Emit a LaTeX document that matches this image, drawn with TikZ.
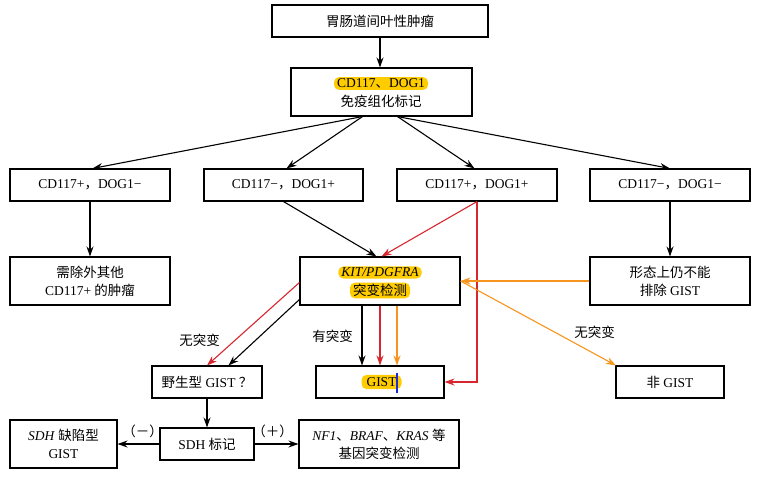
\documentclass[tikz,border=0pt]{standalone}
\usepackage{fontspec}
\setmainfont{Liberation Serif}
\newfontfamily\cjkfont{Noto Sans CJK SC}
\newcommand\zhs[1]{{\cjkfont #1}}
\usetikzlibrary{arrows.meta}
\definecolor{myred}{HTML}{D7262E}
\definecolor{myorange}{HTML}{F7941D}
\definecolor{hlyellow}{HTML}{FFCC00}
\definecolor{cursorblue}{HTML}{1A2BD8}
\begin{document}
\begin{tikzpicture}[x=1pt,y=-1pt,
  font=\fontsize{13.5}{18}\selectfont,
  box/.style={draw, line width=1.1pt, inner sep=0pt, align=center},
  txt/.style={inner sep=0pt},
  hl/.style={fill=hlyellow, rounded corners=5pt, inner xsep=3pt, inner ysep=1.5pt},
  arr/.style={-{Stealth[length=10pt,width=7pt]}, line width=1.1pt},
  lbl/.style={inner sep=0pt}]
\useasboundingbox (0,0) rectangle (760,477);
\begin{scope}[shift={(-0.5,-0.5)}]
% row 1-2
\node[box, minimum width=216pt, minimum height=32pt] (top) at (380.5,21.5) {\zhs{胃肠道间叶性肿瘤}};
\node[box, minimum width=181pt, minimum height=48pt] (b2) at (382,92.5) {};
\node[txt,hl] (b2a) at (381.5,84) {CD117\zhs{、}DOG1};
\node[txt] (b2b) at (381.5,101.5) {\zhs{免疫组化标记}};
% row 3
\node[box, minimum width=160pt, minimum height=32pt] (A) at (90.5,185.5) {CD117+\zhs{，}DOG1−};
\node[box, minimum width=159pt, minimum height=32pt] (B) at (284,185.5) {CD117−\zhs{，}DOG1+};
\node[box, minimum width=160pt, minimum height=32pt] (C) at (477.5,185.5) {CD117+\zhs{，}DOG1+};
\node[box, minimum width=160pt, minimum height=32pt] (D) at (670.5,185.5) {CD117−\zhs{，}DOG1−};
% row 4
\node[box, minimum width=160pt, minimum height=48pt] (E) at (90.5,281.5) {\zhs{需除外其他}\\CD117+ \zhs{的肿瘤}};
\node[box, minimum width=160pt, minimum height=48pt] (K) at (380.5,281.5) {};
\node[txt,hl] (Ka) at (380.5,273) {\textit{KIT/PDGFRA}};
\node[txt,hl] (Kb) at (380.5,291) {\zhs{突变检测}};
\node[box, minimum width=160pt, minimum height=48pt] (F) at (670.5,281.5) {\zhs{形态上仍不能}\\\zhs{排除} GIST};
% row 5
\node[box, minimum width=110pt, minimum height=32pt] (W) at (207.5,382.5) {\zhs{野生型} GIST \zhs{？}};
\node[box, minimum width=128pt, minimum height=32pt] (G) at (380.5,382.5) {};
\node[txt,hl,inner xsep=5pt,inner ysep=2.5pt] (Ga) at (382,382.5) {GIST\hspace{2pt}};
\node[box, minimum width=108pt, minimum height=32pt] (N) at (670.5,382.5) {\zhs{非} GIST};
% row 6
\node[box, minimum width=107pt, minimum height=48pt] (S1) at (64,444.5) {\textit{SDH} \zhs{缺陷型}\\GIST};
\node[box, minimum width=94pt, minimum height=32pt] (S) at (207.5,444.5) {SDH \zhs{标记}};
\node[box, minimum width=160pt, minimum height=48pt] (R) at (379.5,444.5) {\textit{NF1}\zhs{、}\textit{BRAF}\zhs{、}\textit{KRAS} \zhs{等}\\\zhs{基因突变检测}};
% cursor
\draw[cursorblue, line width=1.1pt] (397.5,373) -- (397.5,393);
% labels
\node[lbl] (l1) at (200,341) {\zhs{无突变}};
\node[lbl] (l2) at (333,337) {\zhs{有突变}};
\node[lbl] (l3) at (595,333) {\zhs{无突变}};
\node[lbl] (l4) at (143,432) {\zhs{（－）}};
\node[lbl] (l5) at (273,432) {\zhs{（＋）}};
% arrows
\draw[arr] (top.south) -- (top.south |- b2.north);
\draw[arr] ([xshift=-19pt]b2.south) -- ([xshift=2.5pt]A.north);
\draw[arr] ([xshift=-19pt]b2.south) -- ([xshift=3pt]B.north);
\draw[arr] ([xshift=16pt]b2.south) -- ([xshift=-2.5pt]C.north);
\draw[arr] ([xshift=16pt]b2.south) -- (D.north);
\draw[arr] (A.south) -- (E.north);
\draw[arr] (D.south) -- (F.north);
\draw[arr] (B.south) -- ([xshift=-3.5pt]K.north);
\draw[arr, myred] (C.south) -- ([xshift=1.5pt]K.north);
\draw[arr, myred] (C.south) |- (G.east);
\draw[arr, myorange] (F.west) -- (K.east);
\draw[arr, myorange] (K.east) -- ([xshift=0.5pt]N.north west);
\draw[arr, myred] ([yshift=-1.5pt]K.west) -- (W.north);
\draw[arr] ([yshift=-18.5pt]K.west) -- ([xshift=21.5pt]W.north);
\draw[arr] ([xshift=-18pt]K.south) -- ([xshift=-18pt]G.north);
\draw[arr, myred] (K.south) -- (G.north);
\draw[arr, myorange] ([xshift=17pt]K.south) -- ([xshift=17pt]G.north);
\draw[arr] (W.south) -- (S.north);
\draw[arr] (S.west) -- (S1.east);
\draw[arr] (S.east) -- (R.west);
\end{scope}
\end{tikzpicture}
\end{document}
